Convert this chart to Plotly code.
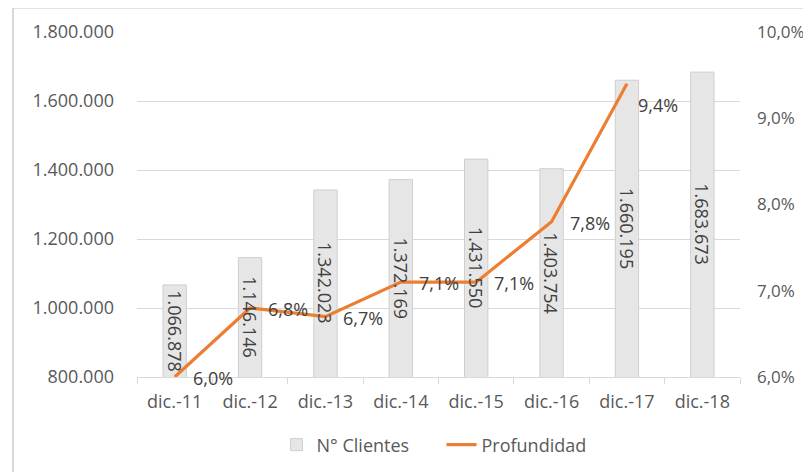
import plotly.graph_objects as go

categorias = ["dic.-11", "dic.-12", "dic.-13", "dic.-14", "dic.-15", "dic.-16", "dic.-17", "dic.-18"]
clientes = [1066878, 1146146, 1342023, 1372169, 1431550, 1403754, 1660195, 1683673]
profundidad = [0.060, 0.068, 0.067, 0.071, 0.071, 0.078, 0.094, None]
prof_labels = ["6,0%", "6,8%", "6,7%", "7,1%", "7,1%", "7,8%", "9,4%", None]

Y1_MIN, Y1_MAX = 800000, 1800000
Y2_MIN, Y2_MAX = 0.06, 0.10

FONT = "Open Sans"
FS = 18
TXT = "#595959"
GRID = "#d9d9d9"

# page body has an 8px default margin; figure is sized to fill the rest
W, H = 803, 464

fig = go.Figure()
fig.add_trace(go.Bar(
    x=categorias, y=clientes, name="N° Clientes",
    marker=dict(color="#e7e6e6", line=dict(color="#d0cece", width=1)),
    width=0.31, hoverinfo="x+y",
))
fig.add_trace(go.Scatter(
    x=categorias, y=profundidad, name="Profundidad", yaxis="y2",
    mode="lines", line=dict(color="#ed7d31", width=3.2),
))

ann = []
for c, v in zip(categorias, clientes):
    ann.append(dict(
        x=c, y=(Y1_MIN + v) / 2, xref="x", yref="y",
        text=f"{v:,}".replace(",", "."), showarrow=False, textangle=90,
        font=dict(family=FONT, size=FS, color="#404040"),
    ))
xshifts = [16, 16, 16, 16, 16, 16, 9, 16]
yshifts = [0, 0, 0, 0, 0, 0, -20, 0]
for c, p, lab, xs, ys in zip(categorias, profundidad, prof_labels, xshifts, yshifts):
    if p is None:
        continue
    ann.append(dict(
        x=c, y=p, xref="x", yref="y2", text=lab, showarrow=False,
        xanchor="left", yanchor="middle", xshift=xs, yshift=ys - 1,
        font=dict(family=FONT, size=FS, color="#404040"),
    ))

fig.update_layout(
    width=W, height=H,
    margin=dict(l=129, r=71, t=24, b=95, autoexpand=False),
    paper_bgcolor="white", plot_bgcolor="white",
    separators=",.",
    font=dict(family=FONT, size=FS, color=TXT),
    showlegend=True,
    legend=dict(orientation="h", x=0.505, xanchor="center", y=-0.197, yanchor="middle",
                font=dict(family=FONT, size=FS, color=TXT),
                entrywidth=120, entrywidthmode="pixels",
                traceorder="normal"),
    xaxis=dict(
        type="category", showline=True, linecolor=GRID, linewidth=1,
        ticks="outside", tickson="boundaries", ticklen=6, tickcolor=GRID,
        showgrid=False, tickfont=dict(family=FONT, size=FS, color=TXT),
        ticklabelstandoff=8, automargin=False,
    ),
    yaxis=dict(
        range=[Y1_MIN, Y1_MAX], dtick=200000, tickformat=",.0f",
        showgrid=True, gridcolor=GRID, gridwidth=1, zeroline=False,
        showline=False, ticks="", ticklabelstandoff=22, automargin=False,
        tickfont=dict(family=FONT, size=FS, color=TXT),
    ),
    yaxis2=dict(
        range=[Y2_MIN, Y2_MAX], dtick=0.01, tickformat=".1%",
        overlaying="y", side="right", showgrid=False, zeroline=False,
        showline=False, ticks="", ticklabelstandoff=16, automargin=False,
        tickfont=dict(family=FONT, size=17, color=TXT),
    ),
    annotations=ann,
    shapes=[dict(type="rect", xref="paper", yref="paper",
                 x0=-0.2056, x1=1.3, y0=-0.5, y1=1.07,
                 line=dict(color=GRID, width=2), fillcolor="rgba(0,0,0,0)", layer="below")],
)

fig.write_html("out.html")
